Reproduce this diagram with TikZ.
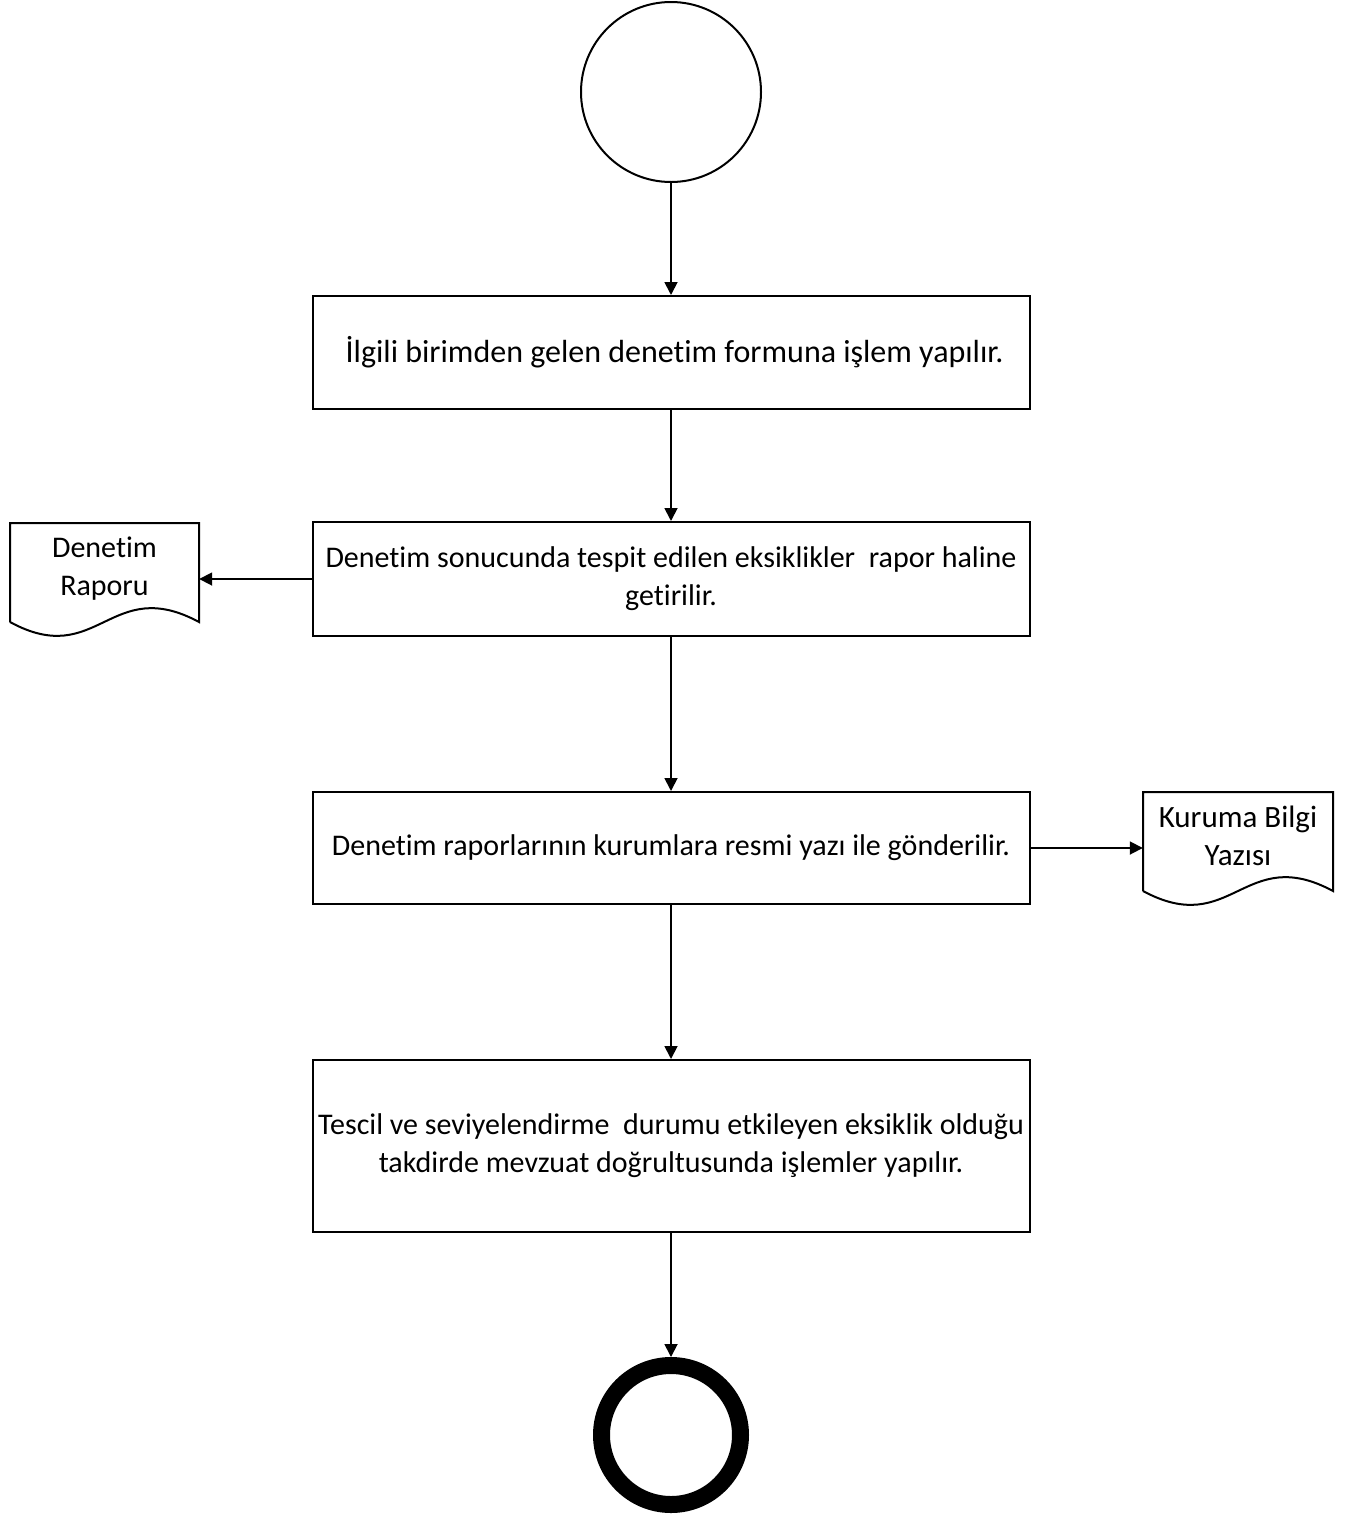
\documentclass[tikz,border=0pt]{standalone}
\usepackage{fontspec}
\setmainfont{Carlito}[Ligatures=NoCommon]
\usetikzlibrary{arrows.meta}

\begin{document}
\begin{tikzpicture}[x=1pt, y=-1pt,
  stepbox/.style={draw, line width=2pt, minimum width=717pt, align=center, inner sep=0pt, font=\fontsize{30}{38}\selectfont},
  doctext/.style={align=center, inner sep=0pt, font=\fontsize{30}{38}\selectfont},
  flow/.style={line width=1.8pt, -{Triangle[length=13pt, width=13pt]}}]
\useasboundingbox (0,0) rectangle (1358,1519);

\node[circle, draw, line width=2pt, minimum size=180pt] (start) at (671,92) {};
\node[stepbox, minimum height=113pt, font=\fontsize{32}{38}\selectfont] (form) at (671,352.5) {\ İlgili birimden gelen denetim formuna işlem yapılır.};
\node[stepbox, minimum height=114pt] (report) at (671,579) {Denetim sonucunda tespit edilen eksiklikler\ \ rapor haline\\getirilir.};
\node[stepbox, minimum height=112pt] (send) at (671,848) {Denetim raporlarının kurumlara resmi yazı ile gönderilir.};
\node[stepbox, minimum height=172pt] (check) at (671,1146) {Tescil ve seviyelendirme\ \ durumu etkileyen eksiklik olduğu\\takdirde mevzuat doğrultusunda işlemler yapılır.};
\node[circle, draw, line width=17pt, minimum size=139pt] (stop) at (671,1435) {};

\node[doctext, minimum width=189pt] (raporu) at (104.5,569) {Denetim\\Raporu};
\draw[line width=2pt] (10,622) -- (10,523) -- (199,523) -- (199,622) .. controls (110,574) and (98,670) .. (10,622);
\node[doctext, minimum width=190pt, font=\fontsize{31}{38}\selectfont] (bilgi) at (1238,836) {Kuruma Bilgi\\Yazısı};
\draw[line width=2pt] (1143,891) -- (1143,792) -- (1333,792) -- (1333,891) .. controls (1244,843) and (1232,939) .. (1143,891);

\draw[flow] (start) -- (form);
\draw[flow] (form) -- (report);
\draw[flow] (report) -- (send);
\draw[flow] (send) -- (check);
\draw[flow] (check) -- (stop);
\draw[flow] (report.west) -- (report.west -| raporu.east);
\draw[flow] (send.east) -- (send.east -| bilgi.west);

\end{tikzpicture}
\end{document}
